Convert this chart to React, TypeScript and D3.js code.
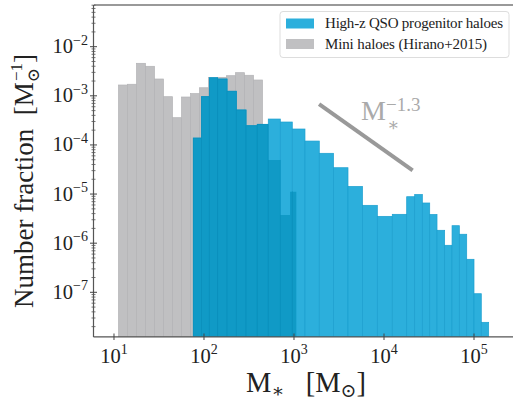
import React from 'react';
import * as d3 from 'd3';

// ---- data (log10 of stellar-mass bin edges, number fraction per bin) ----
const miniHaloEdges = [1.05, 1.15, 1.25, 1.35, 1.45, 1.55, 1.65, 1.75, 1.85, 1.95, 2.05, 2.15, 2.25, 2.35, 2.45, 2.55, 2.65];
const miniHaloFrac = [1.66e-3, 1.72e-3, 4.59e-3, 3.99e-3, 2.2e-3, 9.6e-4, 3.59e-4, 9.46e-4, 1.11e-3, 1.46e-3, 2.36e-3, 2.38e-3, 2.57e-3, 2.96e-3, 2.62e-3, 2.1e-3];

const qsoLowEdges = [1.881, 1.972, 2.059, 2.152, 2.256, 2.359, 2.467, 2.592, 2.714, 2.848, 2.956, 3.026];
const qsoLowFrac = [1.38e-4, 9.6e-4, 2.34e-3, 2.2e-3, 1.24e-3, 5.15e-4, 2.46e-4, 2.63e-4, 4.94e-5, 3.75e-6, 1.12e-5];

const qsoHighEdges = [2.592, 2.714, 2.848, 2.981, 3.122, 3.281, 3.439, 3.6, 3.761, 3.926, 4.092, 4.252, 4.341, 4.426, 4.508, 4.589, 4.674, 4.756, 4.837, 4.919, 5.0, 5.081, 5.163];
const qsoHighFrac = [2.63e-4, 3.37e-4, 2.93e-4, 2.11e-4, 1.2e-4, 6.76e-5, 3.44e-5, 1.43e-5, 5.9e-6, 3.52e-6, 3.87e-6, 8.83e-6, 9.8e-6, 6.58e-6, 3.84e-6, 1.83e-6, 9.06e-7, 2.27e-6, 1.52e-6, 4.7e-7, 9.36e-8, 2.45e-8];

const xTickExp = [1, 2, 3, 4, 5];
const yTickExp = [-2, -3, -4, -5, -6, -7];

const slopeMass = [1.9e3, 2.08e4];
const slopeAnchorFrac = 6.8e-4;
const slopeIndex = -1.3;

const legendLabels = ['High-z QSO progenitor haloes', 'Mini haloes (Hirano+2015)'];

const LIGHT = '#2cafdc';
const DARK = '#109ac6';
const GRAY = '#c0c0c2';
const FONT = '"Liberation Serif", "DejaVu Serif", serif';
const W = 513;
const H = 403;

export default function App() {
  const x = d3.scaleLog().domain([10 ** 0.7778, 10 ** 5.4222]).range([94, 512]);
  const y = d3.scaleLog().domain([10 ** -7.91, 10 ** -1.151]).range([337, 5]);
  const bottom = 337;

  const bars = (edges: number[], fr: number[]) =>
    fr.map((v, i) => ({ x0: x(10 ** edges[i]), x1: x(10 ** edges[i + 1]), y: y(v) }));

  const gray = bars(miniHaloEdges, miniHaloFrac);
  const low = bars(qsoLowEdges, qsoLowFrac);
  const high = bars(qsoHighEdges, qsoHighFrac);

  const rect = (b: any, i: number, fill: string, stroke?: string) => (
    <rect key={i} x={b.x0} y={b.y} width={b.x1 - b.x0} height={bottom - b.y} fill={fill}
      stroke={stroke || 'none'} strokeWidth={0.7} />
  );

  const minorTicks: number[] = [];
  for (let e = -8; e <= -2; e++) {
    for (let m = 2; m <= 9; m++) {
      const py = y(m * 10 ** e);
      if (py >= 5 && py <= 337) minorTicks.push(py);
    }
  }

  const slopeY = slopeMass.map((m) => y(slopeAnchorFrac * Math.pow(m / slopeMass[0], slopeIndex)));

  return (
    <div style={{ position: 'absolute', left: 0, top: 0 }}>
      <svg width={W} height={H} style={{ display: 'block', background: '#fff' }} fontFamily={FONT}>
        <defs>
          <clipPath id="clipGray">{gray.map((b, i) => rect(b, i, '#000'))}</clipPath>
          <clipPath id="clipLow">{low.map((b, i) => rect(b, i, '#000'))}</clipPath>
          <clipPath id="plotArea"><rect x={94} y={5} width={418} height={332} /></clipPath>
        </defs>
        <g clipPath="url(#plotArea)">
          <g>{gray.map((b, i) => rect(b, i, GRAY, '#b3b3b6'))}</g>
          <g>{low.map((b, i) => rect(b, i, LIGHT, '#1c9fcf'))}</g>
          <g>{high.map((b, i) => rect(b, i, LIGHT, '#1c9fcf'))}</g>
          <g clipPath="url(#clipGray)">{low.map((b, i) => rect(b, i, DARK, '#0a8fbb'))}</g>
          <g clipPath="url(#clipLow)">{high.map((b, i) => rect(b, i, DARK, '#0a8fbb'))}</g>
        </g>

        {/* power-law guide */}
        <line x1={x(slopeMass[0])} y1={slopeY[0]} x2={x(slopeMass[1])} y2={slopeY[1]}
          stroke="#999" strokeWidth={4} />
        <text x={361} y={120} fontSize={28} fill="#aaa">M</text>
        <text x={387} y={131} fontSize={18} fill="#aaa">∗</text>
        <text x={386} y={111} fontSize={19} fill="#aaa">−1.3</text>

        {/* spines */}
        <line x1={94} y1={5} x2={513} y2={5} stroke="#999" strokeWidth={2} />
        <line x1={93.5} y1={5} x2={93.5} y2={337} stroke="#555" strokeWidth={1.2} />
        <line x1={93.5} y1={336.8} x2={513} y2={336.8} stroke="#555" strokeWidth={1.2} />

        {/* y ticks */}
        {minorTicks.map((py, i) => (
          <line key={'m' + i} x1={91.5} x2={95.5} y1={py} y2={py} stroke="#555" strokeWidth={0.8} />
        ))}
        {yTickExp.map((e) => (
          <g key={'y' + e}>
            <line x1={90} x2={97} y1={y(10 ** e)} y2={y(10 ** e)} stroke="#444" strokeWidth={1} />
            <text x={88} y={y(10 ** e) + 6.5} textAnchor="end" fontSize={20.5} fill="#222">
              10<tspan dy={-8.5} fontSize={14}>{'−' + Math.abs(e)}</tspan>
            </text>
          </g>
        ))}

        {/* x ticks */}
        {xTickExp.map((e) => (
          <g key={'x' + e}>
            <line x1={x(10 ** e)} x2={x(10 ** e)} y1={333.5} y2={340} stroke="#444" strokeWidth={1} />
            <text x={x(10 ** e)} y={362.5} textAnchor="middle" fontSize={20.5} fill="#222">
              10<tspan dy={-8.5} fontSize={14}>{e}</tspan>
            </text>
          </g>
        ))}

        {/* axis labels */}
        <text transform="translate(33,181) rotate(-90)" textAnchor="middle" fontSize={27} fill="#222">
          {'Number fraction\u00a0\u00a0[M'}
          <tspan dy={6} fontSize={17}>⊙</tspan>
          <tspan dx={-13} dy={-17} fontSize={17}>−1</tspan>
          <tspan dy={11}>]</tspan>
        </text>
        <text x={306} y={392} textAnchor="middle" fontSize={28.5} fill="#222">
          M<tspan dy={5} fontSize={19}>∗</tspan>
          <tspan dy={-5}>{'\u00a0\u00a0\u00a0[M'}</tspan>
          <tspan dy={5} fontSize={19}>⊙</tspan>
          <tspan dy={-5}>]</tspan>
        </text>

        {/* legend */}
        <rect x={280} y={11.5} width={229} height={46} rx={3} fill="#fff" fillOpacity={0.85} stroke="#ddd" strokeWidth={1} />
        <rect x={286} y={18.5} width={28} height={10} fill={LIGHT} />
        <rect x={286} y={39} width={28} height={10} fill={GRAY} />
        <text x={325} y={28} fontSize={15} fill="#222" textLength={178}>{legendLabels[0]}</text>
        <text x={325} y={48.5} fontSize={15} fill="#222" textLength={162}>{legendLabels[1]}</text>
      </svg>
    </div>
  );
}
